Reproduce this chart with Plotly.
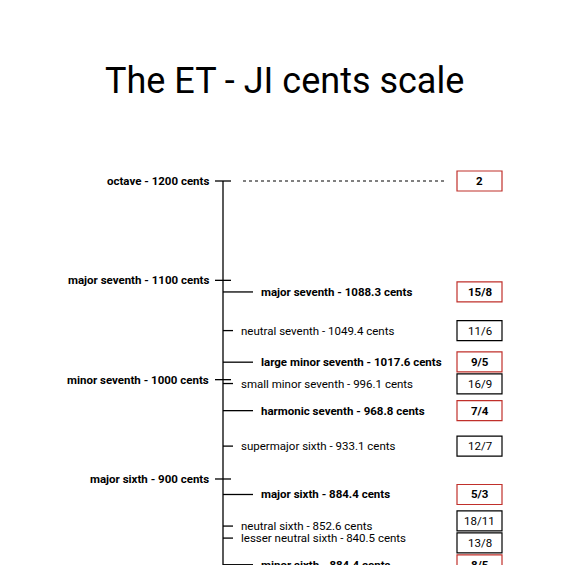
import plotly.graph_objects as go

et_names = ["octave", "major seventh", "minor seventh", "major sixth"]
et_cents = [1200, 1100, 1000, 900]

ji_names = ["major seventh", "neutral seventh", "large minor seventh", "small minor seventh",
            "harmonic seventh", "supermajor sixth", "major sixth", "neutral sixth",
            "lesser neutral sixth", "minor sixth"]
ji_cents = [1088.3, 1049.4, 1017.6, 996.1, 968.8, 933.1, 884.4, 852.6, 840.5, 813.7]
ji_label_cents = ["1088.3", "1049.4", "1017.6", "996.1", "968.8", "933.1", "884.4", "852.6",
                  "840.5", "884.4"]
ji_ratios = ["15/8", "11/6", "9/5", "16/9", "7/4", "12/7", "5/3", "18/11", "13/8", "8/5"]
ji_bold = [True, False, True, False, True, False, True, False, False, True]

PX = 0.9933  # pixels per cent
Y_TOP = 1200 + 173 / PX
Y_BOT = 1200 - 392 / PX
AX = 223
BOX_H = 20 / PX
FONT = "Roboto"
FS = 11.5

fig = go.Figure()
shapes = []
ann = []

# main axis
shapes.append(dict(type="line", x0=AX, x1=AX, y0=1200, y1=Y_BOT - 10, line=dict(color="black", width=1.3)))

for n, c in zip(et_names, et_cents):
    shapes.append(dict(type="line", x0=215, x1=231, y0=c, y1=c, line=dict(color="black", width=1.3)))
    ann.append(dict(x=211, y=c, text=f"<b>{n} - {c} cents</b>", xanchor="right", showarrow=False,
                    font=dict(size=FS, color="black", family=FONT)))

# octave dotted line
shapes.append(dict(type="line", x0=243, x1=445, y0=1200, y1=1200, line=dict(color="black", width=1, dash="dot")))

# de-overlap boxes
box_y = list(ji_cents)
for _ in range(5):
    for i in range(len(box_y) - 1):
        gap = box_y[i] - box_y[i + 1]
        if gap < 22 / PX:
            d = (22 / PX - gap) / 2
            box_y[i] += d
            box_y[i + 1] -= d

def box(yc, text, bold):
    col = "#c0302b" if bold else "black"
    shapes.append(dict(type="rect", x0=457, x1=502, y0=yc - BOX_H / 2, y1=yc + BOX_H / 2,
                       line=dict(color=col, width=1.2), fillcolor="white"))
    t = f"<b>{text}</b>" if bold else text
    ann.append(dict(x=479.5, y=yc, text=t, showarrow=False, font=dict(size=FS, color="black", family=FONT)))

box(1200, "2", True)

for n, c, lc, r, b, by in zip(ji_names, ji_cents, ji_label_cents, ji_ratios, ji_bold, box_y):
    x1 = 253 if b else 233
    shapes.append(dict(type="line", x0=AX, x1=x1, y0=c, y1=c, line=dict(color="black", width=1.3)))
    t = f"{n} - {lc} cents"
    ann.append(dict(x=x1 + 6, y=c, text=f"<b>{t}</b>" if b else t, xanchor="left", showarrow=False,
                    font=dict(size=FS, color="black", family=FONT)))
    box(by, r, b)

fig.add_trace(go.Scatter(x=[0], y=[Y_BOT - 50], mode="markers", marker=dict(opacity=0), hoverinfo="skip"))

fig.update_layout(
    width=565, height=565, margin=dict(l=0, r=0, t=0, b=0),
    paper_bgcolor="white", plot_bgcolor="white", showlegend=False,
    xaxis=dict(range=[8, 573], visible=False, fixedrange=True),
    yaxis=dict(range=[Y_BOT, Y_TOP], visible=False, fixedrange=True),
    shapes=shapes, annotations=ann + [dict(x=284, y=1200 + 100 / PX, text="The ET - JI cents scale",
                                          showarrow=False, font=dict(size=36, color="black", family=FONT))],
)
fig.write_html("out.html")
